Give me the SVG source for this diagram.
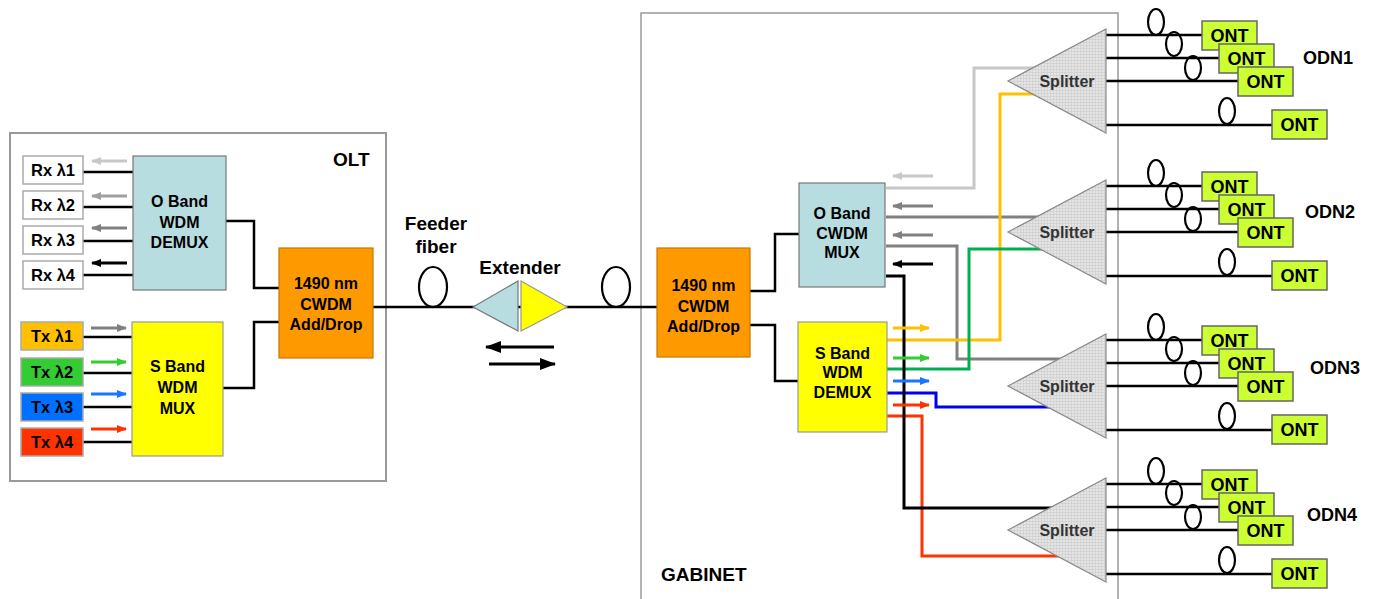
<svg xmlns="http://www.w3.org/2000/svg" width="1376" height="599" viewBox="0 0 1376 599">
<style>
text{font-family:"Liberation Sans",Arial,sans-serif;font-weight:bold;fill:#000}
.t16{font-size:16px;text-anchor:middle}
.t15{font-size:16.5px;text-anchor:middle}
.ont{fill:#ccff33;stroke:#666;stroke-width:1.5}
.ontt{font-size:18px;text-anchor:middle}
.lbl{font-size:19px}
.spl{fill:url(#hatch);stroke:#888;stroke-width:1.2}
.splt{font-size:16px;text-anchor:middle;fill:#333}
.fib{fill:none;stroke:#000;stroke-width:2.5}
.loop{fill:none;stroke:#000;stroke-width:2.2}
.wire{fill:none;stroke-width:3}
.arr{stroke-width:3}
.cyan{fill:#b7dde1;stroke:#777;stroke-width:1.2}
.yel{fill:#ffff00;stroke:#999;stroke-width:1.2}
.org{fill:#ff9900;stroke:#c77700;stroke-width:1.2}
.box{stroke:#aaa;stroke-width:1.5}
</style>
<defs>
<pattern id="hatch" width="3" height="3" patternUnits="userSpaceOnUse">
<rect width="3" height="3" fill="#e4e4e4"/>
<path d="M0,0.5H3M0.5,0V3" stroke="#cbcbcb" stroke-width="0.6"/>
</pattern>
<marker id="aLg" viewBox="0 0 10 8" refX="9" refY="4" markerWidth="10" markerHeight="8" orient="auto" markerUnits="userSpaceOnUse"><path d="M0,0L10,4L0,8z" fill="#c8c8c8"/></marker>
<marker id="aG1" viewBox="0 0 10 8" refX="9" refY="4" markerWidth="10" markerHeight="8" orient="auto" markerUnits="userSpaceOnUse"><path d="M0,0L10,4L0,8z" fill="#a0a0a0"/></marker>
<marker id="aG" viewBox="0 0 10 8" refX="9" refY="4" markerWidth="10" markerHeight="8" orient="auto" markerUnits="userSpaceOnUse"><path d="M0,0L10,4L0,8z" fill="#808080"/></marker>
<marker id="aK" viewBox="0 0 10 8" refX="9" refY="4" markerWidth="10" markerHeight="8" orient="auto" markerUnits="userSpaceOnUse"><path d="M0,0L10,4L0,8z" fill="#000"/></marker>
<marker id="aY" viewBox="0 0 10 8" refX="9" refY="4" markerWidth="10" markerHeight="8" orient="auto" markerUnits="userSpaceOnUse"><path d="M0,0L10,4L0,8z" fill="#ffc000"/></marker>
<marker id="aGr" viewBox="0 0 10 8" refX="9" refY="4" markerWidth="10" markerHeight="8" orient="auto" markerUnits="userSpaceOnUse"><path d="M0,0L10,4L0,8z" fill="#33cc33"/></marker>
<marker id="aB" viewBox="0 0 10 8" refX="9" refY="4" markerWidth="10" markerHeight="8" orient="auto" markerUnits="userSpaceOnUse"><path d="M0,0L10,4L0,8z" fill="#1a75ff"/></marker>
<marker id="aR" viewBox="0 0 10 8" refX="9" refY="4" markerWidth="10" markerHeight="8" orient="auto" markerUnits="userSpaceOnUse"><path d="M0,0L10,4L0,8z" fill="#ff3300"/></marker>
<marker id="aBig" viewBox="0 0 16 12" refX="15" refY="6" markerWidth="16" markerHeight="12" orient="auto" markerUnits="userSpaceOnUse"><path d="M0,0L16,6L0,12z" fill="#000"/></marker>
</defs>

<rect width="1376" height="599" fill="#fff"/>

<!-- containers -->
<g id="olt">
<rect x="10" y="133" width="376" height="348" fill="#fff" stroke="#999" stroke-width="2"/>
<text class="lbl" x="333" y="166">OLT</text>
</g>
<g id="gabinet">
<path d="M641,600V13H1118V600" fill="none" stroke="#999" stroke-width="1.5"/>
<text class="lbl" x="661" y="581">GABINET</text>
</g>

<!-- connectors -->
<g id="connectors">
<!-- OLT internal -->
<path class="fib" d="M83,172H133M83,207H133M83,241H133M83,275H133" stroke-width="3.5"/>
<path class="fib" d="M83,337H132M83,373H132M83,407H132M83,442H132" stroke-width="3.5"/>
<path class="fib" d="M226,221H254V288H279M223,388H254V322H279"/>
<line class="arr" x1="127" y1="161" x2="92" y2="161" stroke="#c8c8c8" marker-end="url(#aLg)"/>
<line class="arr" x1="127" y1="196" x2="92" y2="196" stroke="#a0a0a0" marker-end="url(#aG1)"/>
<line class="arr" x1="127" y1="228" x2="92" y2="228" stroke="#808080" marker-end="url(#aG)"/>
<line class="arr" x1="127" y1="263" x2="92" y2="263" stroke="#000" marker-end="url(#aK)"/>
<line class="arr" x1="91" y1="328" x2="126" y2="328" stroke="#808080" marker-end="url(#aG)"/>
<line class="arr" x1="91" y1="362" x2="126" y2="362" stroke="#33cc33" marker-end="url(#aGr)"/>
<line class="arr" x1="91" y1="394" x2="126" y2="394" stroke="#1a75ff" marker-end="url(#aB)"/>
<line class="arr" x1="91" y1="429" x2="126" y2="429" stroke="#ff3300" marker-end="url(#aR)"/>
<!-- feeder -->
<path class="fib" d="M373,307H657" stroke-width="3"/>
<ellipse class="loop" cx="433" cy="287" rx="14" ry="20"/>
<ellipse class="loop" cx="616" cy="287" rx="14" ry="20"/>
<line x1="554" y1="347" x2="486" y2="347" stroke="#000" stroke-width="3" marker-end="url(#aBig)"/>
<line x1="489" y1="364" x2="555" y2="364" stroke="#000" stroke-width="3" marker-end="url(#aBig)"/>
<!-- gabinet internal -->
<path class="fib" d="M750,291H775V234H799M750,325H775V381H798"/>
<path class="wire" d="M886,188H974V68H1035" stroke="#c8c8c8"/>
<path class="wire" d="M886,217H1040" stroke="#808080" stroke-width="4"/>
<path class="wire" d="M886,246H957V359H1060" stroke="#808080"/>
<path class="wire" d="M887,340H1000V94H1035" stroke="#ffc000"/>
<path class="wire" d="M887,369H969V249H1045" stroke="#00b050"/>
<path class="wire" d="M887,393H936V407H1050" stroke="#0000ee"/>
<path class="wire" d="M887,416H922V556H1060" stroke="#ff3300"/>
<path class="wire" d="M886,276H904V508H1055" stroke="#000"/>
<line class="arr" x1="933" y1="176" x2="893" y2="176" stroke="#c8c8c8" marker-end="url(#aLg)"/>
<line class="arr" x1="933" y1="206" x2="893" y2="206" stroke="#808080" marker-end="url(#aG)"/>
<line class="arr" x1="933" y1="235" x2="893" y2="235" stroke="#808080" marker-end="url(#aG)"/>
<line class="arr" x1="933" y1="264" x2="893" y2="264" stroke="#000" marker-end="url(#aK)"/>
<line class="arr" x1="893" y1="328" x2="929" y2="328" stroke="#ffc000" marker-end="url(#aY)"/>
<line class="arr" x1="893" y1="358" x2="929" y2="358" stroke="#33cc33" marker-end="url(#aGr)"/>
<line class="arr" x1="893" y1="381" x2="929" y2="381" stroke="#1a75ff" marker-end="url(#aB)"/>
<line class="arr" x1="893" y1="405" x2="929" y2="405" stroke="#ff3300" marker-end="url(#aR)"/>
<!-- drop fibers ODN1-4 -->
<g id="drops1">
<path class="fib" d="M1106,35H1203M1106,58H1220M1106,81H1239M1106,125H1273"/>
<ellipse class="loop" cx="1156" cy="22" rx="8" ry="13"/>
<ellipse class="loop" cx="1174" cy="44" rx="8" ry="12"/>
<ellipse class="loop" cx="1193" cy="68" rx="8" ry="12"/>
<ellipse class="loop" cx="1227" cy="111" rx="8" ry="13"/>
</g>
<use href="#drops1" transform="translate(0,151)"/>
<use href="#drops1" transform="translate(0,305)"/>
<use href="#drops1" transform="translate(0,449)"/>
</g>

<!-- OLT nodes -->
<g id="rx1"><rect class="box" x="23" y="156" width="60" height="28" fill="#fff"/><text class="t15" x="53" y="176">Rx λ1</text></g>
<g id="rx2"><rect class="box" x="23" y="191" width="60" height="28" fill="#fff"/><text class="t15" x="53" y="211">Rx λ2</text></g>
<g id="rx3"><rect class="box" x="23" y="226" width="60" height="28" fill="#fff"/><text class="t15" x="53" y="246">Rx λ3</text></g>
<g id="rx4"><rect class="box" x="23" y="261" width="60" height="28" fill="#fff"/><text class="t15" x="53" y="281">Rx λ4</text></g>
<g id="tx1"><rect class="box" x="21" y="322" width="62" height="28" fill="#ffc000"/><text class="t15" x="52" y="342">Tx λ1</text></g>
<g id="tx2"><rect class="box" x="21" y="358" width="62" height="28" fill="#33cc33"/><text class="t15" x="52" y="378">Tx λ2</text></g>
<g id="tx3"><rect class="box" x="21" y="393" width="62" height="28" fill="#0070ff"/><text class="t15" x="52" y="413">Tx λ3</text></g>
<g id="tx4"><rect class="box" x="21" y="428" width="62" height="28" fill="#ff3300"/><text class="t15" x="52" y="448">Tx λ4</text></g>
<g id="oband-demux">
<rect class="cyan" x="133" y="156" width="93" height="134"/>
<text class="t16" x="179.5" y="207">O Band</text><text class="t16" x="179.5" y="228">WDM</text><text class="t16" x="179.5" y="248">DEMUX</text>
</g>
<g id="sband-mux">
<rect class="yel" x="132" y="322" width="91" height="134"/>
<text class="t16" x="177.5" y="372">S Band</text><text class="t16" x="177.5" y="393">WDM</text><text class="t16" x="177.5" y="414">MUX</text>
</g>
<g id="olt-adddrop">
<rect class="org" x="279" y="248" width="94" height="110"/>
<text class="t16" x="326" y="289">1490 nm</text><text class="t16" x="326" y="310">CWDM</text><text class="t16" x="326" y="330">Add/Drop</text>
</g>

<!-- feeder labels & extender -->
<g id="feeder-label">
<text class="lbl" x="436" y="230" text-anchor="middle">Feeder</text>
<text class="lbl" x="436" y="253" text-anchor="middle">fiber</text>
</g>
<g id="extender">
<polygon class="cyan" points="473,307 518,281 518,331"/>
<polygon class="yel" points="521,281 521,331 567,307"/>
<text class="lbl" x="520" y="274" text-anchor="middle">Extender</text>
</g>

<!-- gabinet nodes -->
<g id="gab-adddrop">
<rect class="org" x="657" y="248" width="93" height="109"/>
<text class="t16" x="703.5" y="291">1490 nm</text><text class="t16" x="703.5" y="312">CWDM</text><text class="t16" x="703.5" y="332">Add/Drop</text>
</g>
<g id="oband-mux">
<rect class="cyan" x="799" y="183" width="86" height="104"/>
<text class="t16" x="842" y="219">O Band</text><text class="t16" x="842" y="239">CWDM</text><text class="t16" x="842" y="258">MUX</text>
</g>
<g id="sband-demux">
<rect class="yel" x="798" y="322" width="89" height="110"/>
<text class="t16" x="842.5" y="359">S Band</text><text class="t16" x="842.5" y="378">WDM</text><text class="t16" x="842.5" y="398">DEMUX</text>
</g>

<!-- ODN groups -->
<g id="odn1">
<polygon class="spl" points="1008,81 1106,29 1106,133"/><text class="splt" x="1067" y="87">Splitter</text>
<rect class="ont" x="1202" y="21" width="55" height="29"/><text class="ontt" x="1229.5" y="42">ONT</text>
<rect class="ont" x="1219" y="44" width="55" height="29"/><text class="ontt" x="1246.5" y="65">ONT</text>
<rect class="ont" x="1238" y="67" width="55" height="29"/><text class="ontt" x="1265.5" y="88">ONT</text>
<rect class="ont" x="1272" y="110" width="55" height="29"/><text class="ontt" x="1299.5" y="131">ONT</text>
<text class="lbl" x="1303" y="64" style="font-size:18px">ODN1</text>
</g>
<g id="odn2" transform="translate(0,151)">
<polygon class="spl" points="1008,81 1106,29 1106,133"/><text class="splt" x="1067" y="87">Splitter</text>
<rect class="ont" x="1202" y="21" width="55" height="29"/><text class="ontt" x="1229.5" y="42">ONT</text>
<rect class="ont" x="1219" y="44" width="55" height="29"/><text class="ontt" x="1246.5" y="65">ONT</text>
<rect class="ont" x="1238" y="67" width="55" height="29"/><text class="ontt" x="1265.5" y="88">ONT</text>
<rect class="ont" x="1272" y="110" width="55" height="29"/><text class="ontt" x="1299.5" y="131">ONT</text>
<text class="lbl" x="1305" y="67" style="font-size:18px">ODN2</text>
</g>
<g id="odn3" transform="translate(0,305)">
<polygon class="spl" points="1008,81 1106,29 1106,133"/><text class="splt" x="1067" y="87">Splitter</text>
<rect class="ont" x="1202" y="21" width="55" height="29"/><text class="ontt" x="1229.5" y="42">ONT</text>
<rect class="ont" x="1219" y="44" width="55" height="29"/><text class="ontt" x="1246.5" y="65">ONT</text>
<rect class="ont" x="1238" y="67" width="55" height="29"/><text class="ontt" x="1265.5" y="88">ONT</text>
<rect class="ont" x="1272" y="110" width="55" height="29"/><text class="ontt" x="1299.5" y="131">ONT</text>
<text class="lbl" x="1310" y="69" style="font-size:18px">ODN3</text>
</g>
<g id="odn4" transform="translate(0,449)">
<polygon class="spl" points="1008,81 1106,29 1106,133"/><text class="splt" x="1067" y="87">Splitter</text>
<rect class="ont" x="1202" y="21" width="55" height="29"/><text class="ontt" x="1229.5" y="42">ONT</text>
<rect class="ont" x="1219" y="44" width="55" height="29"/><text class="ontt" x="1246.5" y="65">ONT</text>
<rect class="ont" x="1238" y="67" width="55" height="29"/><text class="ontt" x="1265.5" y="88">ONT</text>
<rect class="ont" x="1272" y="110" width="55" height="29"/><text class="ontt" x="1299.5" y="131">ONT</text>
<text class="lbl" x="1307" y="72" style="font-size:18px">ODN4</text>
</g>
</svg>
